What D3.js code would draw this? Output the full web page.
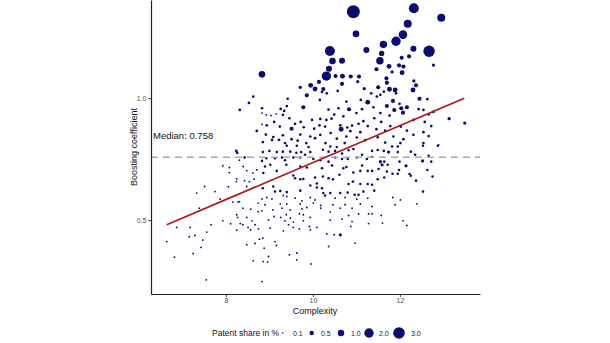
<!DOCTYPE html>
<html><head><meta charset="utf-8">
<script src="https://cdn.jsdelivr.net/npm/d3@7"></script>
<style>body{margin:0;background:#fff} svg text{font-family:"Liberation Sans",Arial,Helvetica,sans-serif}</style>
</head><body><svg id="c" width="610" height="343"></svg>
<script>
const complexity=[
8.32,8.53,8.63,8.71,10.93,10.99,10.39,11.23,10.45,10.67,
10.37,10.31,8.83,10.52,10.68,10.87,11.06,10.14,9.95,10.05,
9.71,10.24,10.21,10.57,10.67,11.03,11.18,9.86,9.42,10.16,
10.32,10.77,11.10,11.26,9.78,9.40,9.26,9.34,8.83,8.83,
8.93,9.04,9.16,9.31,10.36,10.59,10.83,11.00,11.13,10.49,
10.70,10.43,10.31,10.17,9.98,9.72,9.59,9.46,9.11,8.94,
8.83,9.24,9.51,9.79,10.03,10.15,10.28,10.63,10.79,10.90,
11.05,11.16,11.26,10.65,10.86,11.09,10.41,10.17,9.94,9.71,
9.31,9.09,8.92,9.06,9.22,9.51,9.65,10.05,10.55,10.77,
11.01,11.20,8.85,9.36,9.85,10.29,10.73,12.32,12.95,12.18,
12.07,11.91,11.62,12.31,12.67,11.58,11.54,12.21,12.04,12.77,
11.75,11.98,12.08,11.46,11.82,12.05,11.69,12.32,11.70,12.37,
11.50,11.76,11.89,12.30,11.63,11.34,11.91,11.55,11.47,12.45,
12.63,11.84,11.70,11.39,11.99,12.16,12.43,12.54,11.87,12.03,
11.55,12.07,11.76,12.77,12.66,11.41,12.31,13.13,13.49,11.57,
11.78,12.02,12.57,12.72,11.46,11.66,12.16,12.54,11.85,12.31,
12.66,12.08,11.66,12.54,12.89,12.01,11.49,8.24,8.26,8.43,
8.31,7.93,8.08,8.40,8.08,8.48,8.62,8.71,8.25,8.24,
8.43,8.54,8.65,8.06,8.48,7.51,7.33,7.75,7.87,8.16,
8.28,8.31,8.74,8.39,8.57,7.39,8.74,8.25,8.27,8.48,
7.93,8.60,8.11,8.33,8.39,8.67,7.66,8.51,8.57,8.25,
8.75,6.87,7.18,7.56,7.29,7.16,7.47,6.64,7.43,8.48,
8.67,7.25,6.82,7.55,8.63,8.77,9.40,9.63,9.90,10.40,
10.55,9.00,9.17,9.31,9.48,9.62,9.73,9.82,9.94,10.23,
10.36,10.51,10.67,10.82,10.93,8.85,8.93,8.83,9.13,9.29,
9.36,9.55,9.71,10.01,10.17,10.36,10.51,10.67,10.80,11.01,
11.13,11.24,9.17,8.90,9.02,9.39,9.71,9.86,10.44,10.70,
10.77,11.13,10.21,9.55,9.71,9.78,10.05,10.23,10.36,10.46,
10.61,10.93,11.09,11.26,8.86,9.59,10.09,10.09,10.21,9.94,
10.92,10.82,11.09,11.26,9.09,8.85,9.25,9.13,9.40,9.71,
10.24,10.28,10.40,10.63,10.80,10.96,11.05,11.16,8.83,8.94,
9.06,9.32,9.40,9.59,9.75,9.94,10.05,10.51,10.74,11.01,
11.26,8.90,9.25,9.40,9.71,10.01,10.18,10.46,10.74,11.09,
8.83,9.08,9.29,9.48,9.75,9.86,10.18,10.40,10.63,10.90,
11.05,11.28,9.11,9.26,9.39,9.48,9.69,9.78,9.94,10.82,
8.98,9.36,9.55,9.78,10.40,10.67,10.90,11.28,9.44,9.55,
9.92,10.09,10.87,9.02,9.32,9.69,9.94,10.32,10.49,10.63,
8.85,9.13,9.16,8.88,10.97,10.36,8.98,9.63,9.46,8.86,
8.96,9.63,9.96,8.83,11.36,11.49,11.63,11.74,11.82,11.95,
11.95,12.25,12.53,12.87,12.35,12.66,11.36,11.55,11.64,11.59,
11.72,11.99,12.14,12.52,12.72,11.36,11.51,11.70,11.98,11.83,
11.95,12.22,12.25,12.63,12.75,11.64,11.49,12.37,11.36,11.41,
12.53,11.84,12.01,11.89,12.39,11.36,11.36,11.57,12.07,11.60,12.16];
const boosting=[
0.952,0.981,1.007,0.866,1.355,1.264,1.194,1.198,1.153,1.154,
1.121,1.091,1.098,1.091,1.090,1.089,1.089,1.067,1.053,1.038,
1.045,1.038,1.026,1.030,1.059,1.068,1.039,1.012,0.998,0.993,
1.020,0.986,0.993,0.984,0.963,0.968,0.956,0.948,0.959,0.939,
0.932,0.929,0.936,0.932,0.953,0.959,0.955,0.939,0.955,0.933,
0.926,0.916,0.911,0.915,0.911,0.903,0.895,0.918,0.903,0.889,
0.893,0.884,0.875,0.881,0.875,0.889,0.884,0.889,0.880,0.888,
0.895,0.906,0.886,0.873,0.865,0.861,0.857,0.850,0.843,0.851,
0.848,0.841,0.851,0.829,0.829,0.832,0.826,0.836,0.834,0.843,
0.839,0.828,0.820,0.816,0.816,0.816,0.816,1.369,1.330,1.306,
1.261,1.234,1.221,1.203,1.193,1.184,1.154,1.172,1.166,1.136,
1.131,1.135,1.130,1.119,1.108,1.105,1.082,1.071,1.064,1.053,
1.045,1.037,1.034,1.034,1.027,1.020,1.020,1.014,1.007,0.998,
0.996,0.989,0.968,0.963,0.977,0.963,0.955,0.952,0.952,0.959,
0.939,0.941,0.929,0.944,0.934,0.918,0.911,0.916,0.898,0.903,
0.886,0.884,0.903,0.886,0.873,0.867,0.867,0.861,0.843,0.850,
0.845,0.832,0.818,0.816,0.809,0.816,0.840,0.784,0.776,0.757,
0.746,0.723,0.716,0.720,0.695,0.703,0.693,0.706,0.669,0.658,
0.662,0.658,0.668,0.637,0.638,0.638,0.611,0.617,0.586,0.574,
0.574,0.576,0.570,0.549,0.545,0.549,0.535,0.522,0.511,0.511,
0.497,0.497,0.485,0.486,0.481,0.481,0.481,0.470,0.460,0.459,
0.464,0.470,0.470,0.451,0.437,0.432,0.418,0.412,0.388,0.399,
0.404,0.363,0.348,0.255,0.333,0.422,0.805,0.805,0.800,0.802,
0.800,0.784,0.779,0.781,0.781,0.776,0.779,0.768,0.779,0.789,
0.781,0.784,0.773,0.787,0.792,0.779,0.754,0.743,0.754,0.757,
0.746,0.757,0.757,0.751,0.746,0.740,0.757,0.751,0.751,0.757,
0.768,0.751,0.702,0.720,0.727,0.727,0.720,0.716,0.724,0.713,
0.718,0.724,0.713,0.683,0.668,0.669,0.675,0.679,0.672,0.668,
0.686,0.695,0.702,0.702,0.693,0.672,0.650,0.634,0.631,0.642,
0.658,0.648,0.648,0.648,0.638,0.631,0.620,0.617,0.615,0.621,
0.611,0.601,0.611,0.611,0.613,0.604,0.604,0.617,0.587,0.593,
0.587,0.601,0.597,0.590,0.579,0.593,0.583,0.590,0.593,0.586,
0.590,0.563,0.567,0.566,0.566,0.570,0.560,0.563,0.563,0.566,
0.538,0.542,0.549,0.542,0.546,0.552,0.549,0.533,0.549,0.549,
0.525,0.525,0.515,0.511,0.522,0.508,0.526,0.522,0.511,0.519,
0.501,0.497,0.492,0.497,0.500,0.505,0.494,0.486,0.481,0.470,
0.474,0.470,0.474,0.467,0.456,0.464,0.460,0.443,0.440,0.440,
0.426,0.412,0.396,0.385,0.406,0.392,0.351,0.365,0.358,0.330,
0.328,0.337,0.320,0.248,0.784,0.788,0.784,0.779,0.802,0.802,
0.779,0.781,0.805,0.805,0.768,0.764,0.759,0.740,0.740,0.727,
0.727,0.740,0.723,0.743,0.740,0.702,0.710,0.699,0.706,0.690,
0.690,0.689,0.682,0.706,0.679,0.675,0.668,0.662,0.645,0.621,
0.617,0.593,0.583,0.563,0.567,0.556,0.526,0.519,0.497,0.488,0.478];
const share=[
0.22,0.22,0.22,0.22,3.7,1.05,2.26,0.88,1.05,0.88,
0.88,2.0,1.05,0.45,0.6,0.45,0.45,0.45,0.6,0.6,
0.3,0.45,0.22,0.22,0.45,0.3,0.3,0.45,0.22,0.22,
0.22,0.22,0.22,0.6,0.45,0.22,0.22,0.22,0.22,0.12,
0.12,0.12,0.12,0.22,0.22,0.22,0.45,0.22,0.22,0.22,
0.22,0.22,0.22,0.22,0.22,0.22,0.22,0.22,0.22,0.22,
0.12,0.22,0.45,0.22,0.22,0.22,0.22,0.22,0.22,0.22,
0.22,0.22,0.22,0.6,0.22,0.22,0.22,0.22,0.22,0.22,
0.22,0.22,0.22,0.22,0.22,0.22,0.22,0.22,0.22,0.22,
0.22,0.22,0.22,0.22,0.22,0.22,0.22,2.3,1.5,1.5,
1.7,2.0,1.3,0.88,2.9,0.72,1.3,0.45,0.45,0.3,
0.6,0.45,0.45,0.45,0.3,0.6,0.45,0.3,0.45,0.45,
0.45,0.6,0.6,0.6,0.22,0.22,0.22,0.22,0.22,0.45,
0.22,0.45,0.45,0.22,0.22,0.45,0.22,0.22,0.45,0.45,
0.22,0.45,0.22,0.22,0.22,0.22,0.22,0.3,0.3,0.22,
0.22,0.22,0.22,0.22,0.22,0.22,0.22,0.22,0.22,0.22,
0.22,0.22,0.22,0.22,0.12,0.22,0.22,0.22,0.22,0.22,
0.12,0.12,0.12,0.12,0.12,0.12,0.12,0.12,0.12,0.12,
0.12,0.12,0.12,0.12,0.12,0.12,0.12,0.12,0.12,0.12,
0.12,0.12,0.12,0.12,0.12,0.12,0.12,0.12,0.12,0.12,
0.12,0.12,0.12,0.12,0.12,0.12,0.12,0.12,0.12,0.12,
0.12,0.12,0.12,0.12,0.12,0.12,0.12,0.12,0.12,0.12,
0.12,0.12,0.12,0.12,0.12,0.12,0.2,0.2,0.2,0.2,
0.2,0.2,0.2,0.2,0.2,0.2,0.2,0.2,0.2,0.2,
0.2,0.2,0.2,0.2,0.2,0.2,0.2,0.2,0.2,0.2,
0.2,0.2,0.2,0.2,0.2,0.2,0.2,0.2,0.2,0.2,
0.2,0.2,0.2,0.2,0.2,0.2,0.2,0.2,0.2,0.2,
0.2,0.2,0.2,0.2,0.2,0.2,0.2,0.2,0.2,0.2,
0.2,0.2,0.2,0.2,0.2,0.2,0.2,0.2,0.2,0.2,
0.2,0.2,0.2,0.2,0.2,0.2,0.2,0.2,0.2,0.2,
0.2,0.2,0.2,0.2,0.2,0.2,0.2,0.2,0.12,0.12,
0.12,0.12,0.12,0.12,0.12,0.12,0.12,0.12,0.12,0.12,
0.12,0.12,0.12,0.12,0.12,0.12,0.12,0.12,0.12,0.12,
0.12,0.12,0.12,0.12,0.12,0.12,0.12,0.12,0.12,0.12,
0.12,0.12,0.12,0.12,0.12,0.12,0.12,0.12,0.12,0.12,
0.12,0.12,0.12,0.12,0.12,0.12,0.12,0.12,0.12,0.12,
0.12,0.12,0.12,0.12,0.12,0.12,0.12,0.12,0.12,0.3,
0.12,0.12,0.12,0.12,0.12,0.12,0.12,0.12,0.12,0.12,
0.12,0.12,0.12,0.12,0.2,0.2,0.2,0.3,0.2,0.2,
0.2,0.2,0.2,0.2,0.2,0.2,0.2,0.3,0.2,0.3,
0.2,0.2,0.3,0.3,0.2,0.2,0.2,0.2,0.2,0.2,
0.2,0.2,0.2,0.2,0.2,0.2,0.2,0.2,0.2,0.2,
0.2,0.12,0.12,0.12,0.12,0.12,0.12,0.12,0.12,0.12,0.12];

const medianValue=0.758;
const fitComplexity=[6.64,13.48];
const fitBoosting=[0.481,1.0];
const xTicks=[8,10,12];
const yTicks=[0.5,1.0];
const legendValues=[0.1,0.5,1.0,2.0,3.0];
const legendLabels=["0.1","0.5","1.0","2.0","3.0"];

const svg=d3.select("#c");
svg.append("rect").attr("width",610).attr("height",343).attr("fill","#fff");
const x=d3.scaleLinear().domain([6.28,13.84]).range([151,480]);
const y=d3.scaleLinear().domain([0.197,1.403]).range([294,0]);
const r=d3.scaleSqrt().domain([0.02,3]).range([0.2,5.8]);
const pointColor="#0c0c70";

const pts=complexity.map((c,i)=>({c,b:boosting[i],s:share[i]}));
svg.append("g").selectAll("circle").data(pts).join("circle")
  .attr("cx",d=>x(d.c)).attr("cy",d=>y(d.b)).attr("r",d=>r(d.s))
  .attr("fill",pointColor);

// median line
svg.append("line").attr("x1",x.range()[0]).attr("x2",x.range()[1])
  .attr("y1",y(medianValue)).attr("y2",y(medianValue))
  .attr("stroke","#a8a8a8").attr("stroke-width",1.5).attr("stroke-dasharray","7,5");
svg.append("text").attr("x",153).attr("y",138.5).attr("font-size",9.5).attr("fill","#111")
  .text("Median: "+medianValue);

// fit line
const fit=fitComplexity.map((c,i)=>[c,fitBoosting[i]]);
svg.append("path").datum(fit)
  .attr("d",d3.line().x(d=>x(d[0])).y(d=>y(d[1])))
  .attr("stroke","#b01818").attr("stroke-width",1.8).attr("fill","none");

// axes
const ax=svg.append("g").attr("transform","translate(0,294)")
  .call(d3.axisBottom(x).tickValues(xTicks).tickFormat(d3.format("d")).tickSize(3).tickSizeOuter(0).tickPadding(1));
const ay=svg.append("g").attr("transform","translate(151,0)")
  .call(d3.axisLeft(y).tickValues(yTicks).tickFormat(d3.format(".1f")).tickSize(3).tickSizeOuter(0).tickPadding(1.5));
[ax,ay].forEach(g=>{
  g.select(".domain").attr("stroke","#222").attr("stroke-width",1.2);
  g.selectAll(".tick line").attr("stroke","#444");
  g.selectAll(".tick text").attr("fill","#4d4d4d").attr("font-size",7)
    .attr("font-family","'Liberation Sans',Arial,sans-serif");
});

svg.append("text").attr("x",315).attr("y",313.5).attr("text-anchor","middle")
  .attr("font-size",9).attr("fill","#111").text("Complexity");
svg.append("text").attr("transform","translate(136.5,147) rotate(-90)")
  .attr("text-anchor","middle").attr("font-size",9).attr("fill","#111").text("Boosting coefficient");

// legend
const legCx=[282.7,311.7,341,369,399];
const legLx=[293,321,351,379,411];
svg.append("text").attr("x",212).attr("y",336).attr("font-size",8.5).attr("fill","#111").text("Patent share in %");
const lg=svg.append("g");
legendValues.forEach((v,i)=>{
  lg.append("circle").attr("cx",legCx[i]).attr("cy",333).attr("r",r(v)).attr("fill",pointColor);
  lg.append("text").attr("x",legLx[i]).attr("y",335.5).attr("font-size",7).attr("fill","#222").text(legendLabels[i]);
});
</script></body></html>
